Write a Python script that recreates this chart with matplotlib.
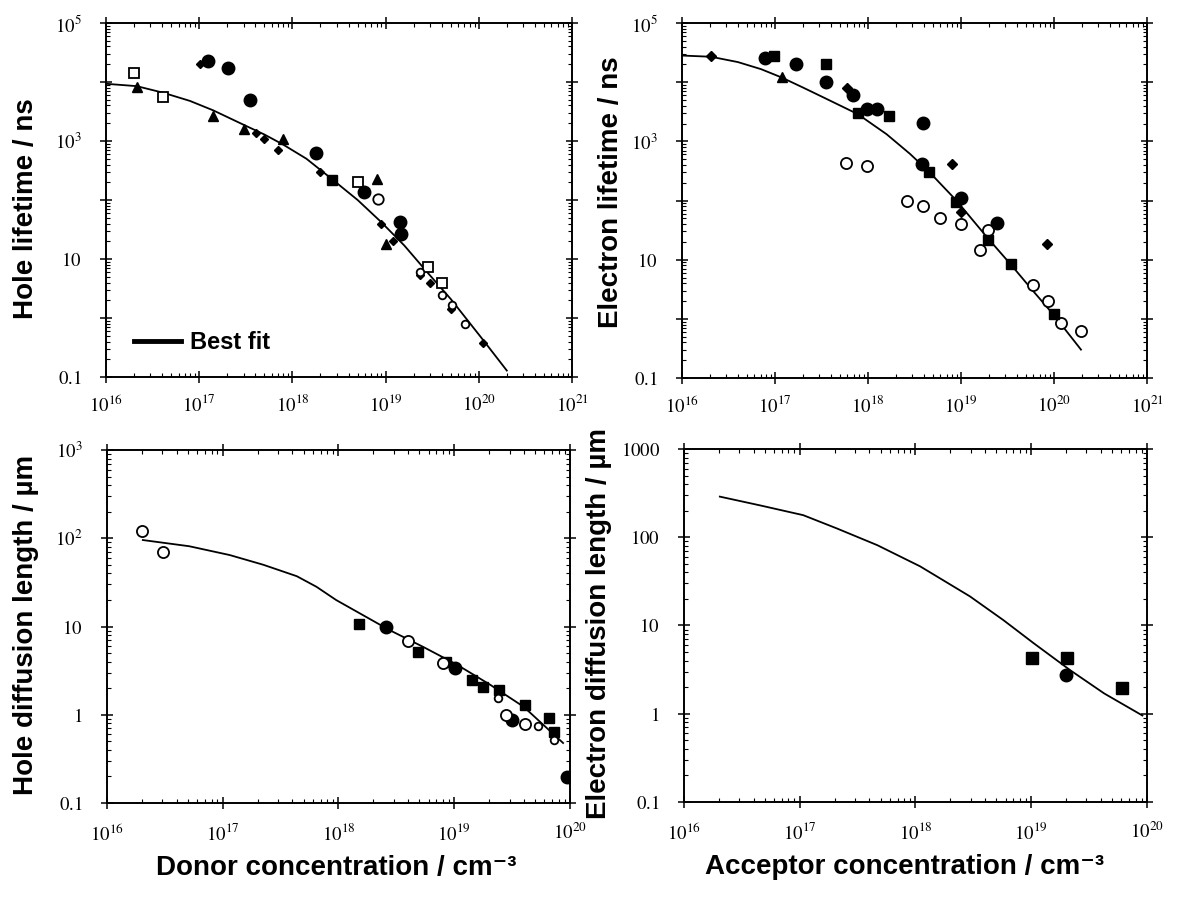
import numpy as np
import matplotlib
matplotlib.use('Agg')
import matplotlib.pyplot as plt
from matplotlib.lines import Line2D
from matplotlib.ticker import LogLocator, FixedLocator, NullFormatter

plt.rcParams['mathtext.fontset'] = 'stix'
plt.rcParams['font.family'] = ['Liberation Sans', 'DejaVu Sans']

# all values are log10: x = log10(N / cm^-3), y = log10(quantity)

# hole lifetime (ns) vs donor concentration
tp_open_sq_x = [16.30, 16.61, 18.70, 19.45, 19.60]
tp_open_sq_y = [4.16, 3.75, 2.30, 0.86, 0.59]
tp_open_circ_x = [18.92, 19.37, 19.61, 19.71, 19.85]
tp_open_circ_y = [2.02, 0.78, 0.39, 0.22, -0.10]
tp_tri_x = [16.33, 17.15, 17.48, 17.90, 18.91, 19.00]
tp_tri_y = [3.91, 3.42, 3.20, 3.03, 2.36, 1.25]
tp_dia_x = [17.01, 17.61, 17.70, 17.85, 18.30, 18.95, 19.08, 19.37, 19.48, 19.70, 20.04]
tp_dia_y = [4.31, 3.14, 3.04, 2.84, 2.47, 1.59, 1.30, 0.73, 0.59, 0.16, -0.42]
tp_circ_x = [17.09, 17.31, 17.54, 18.25, 18.77, 19.15, 19.17]
tp_circ_y = [4.35, 4.24, 3.70, 2.80, 2.14, 1.62, 1.42]
tp_sq_x = [18.42]
tp_sq_y = [2.34]
tp_fit_x = [16.00, 16.33, 16.61, 16.90, 17.15, 17.47, 17.70, 17.90, 18.15, 18.42, 18.70,
            18.95, 19.20, 19.45, 19.70, 20.04, 20.30]
tp_fit_y = [3.97, 3.93, 3.82, 3.68, 3.52, 3.28, 3.11, 2.94, 2.70, 2.36, 2.00,
            1.63, 1.23, 0.77, 0.32, -0.36, -0.89]

# electron lifetime (ns) vs acceptor concentration
tn_dia_x = [16.31, 17.77, 18.90, 19.00, 19.92]
tn_dia_y = [4.45, 3.91, 2.61, 1.81, 1.26]
tn_circ_x = [16.89, 17.22, 17.55, 17.84, 17.99, 18.10, 18.59, 18.58, 19.00, 19.39]
tn_circ_y = [4.41, 4.31, 4.00, 3.78, 3.55, 3.54, 3.31, 2.61, 2.05, 1.62]
tn_sq_x = [16.99, 17.55, 17.89, 18.23, 18.66, 18.95, 19.29, 19.54, 20.00]
tn_sq_y = [4.45, 4.31, 3.48, 3.43, 2.48, 1.97, 1.33, 0.92, 0.09]
tn_tri_x = [17.07]
tn_tri_y = [4.08]
tn_open_x = [17.76, 17.99, 18.42, 18.59, 18.77, 19.00, 19.29, 19.20, 19.77, 19.94, 20.07, 20.29]
tn_open_y = [2.63, 2.58, 2.00, 1.91, 1.71, 1.61, 1.50, 1.16, 0.57, 0.31, -0.07, -0.21]
tn_fit_x = [16.00, 16.31, 16.60, 16.85, 17.07, 17.30, 17.55, 17.89, 18.20, 18.45, 18.66,
            18.95, 19.29, 19.54, 19.77, 20.00, 20.29]
tn_fit_y = [4.45, 4.43, 4.34, 4.22, 4.08, 3.91, 3.72, 3.46, 3.12, 2.79, 2.48,
            2.00, 1.36, 0.91, 0.48, 0.06, -0.52]

# hole diffusion length (um) vs donor concentration
lp_open_x = [16.30, 16.48, 18.60, 18.90, 19.45, 19.61]
lp_open_y = [2.08, 1.84, 0.84, 0.59, 0.00, -0.10]
lp_small_open_x = [19.38, 19.72, 19.86]
lp_small_open_y = [0.19, -0.13, -0.29]
lp_sq_x = [18.18, 18.69, 18.93, 19.15, 19.25, 19.39, 19.61, 19.82, 19.86]
lp_sq_y = [1.03, 0.71, 0.60, 0.39, 0.32, 0.28, 0.11, -0.04, -0.20]
lp_circ_x = [18.41, 19.01, 19.50, 19.97]
lp_circ_y = [0.99, 0.53, -0.06, -0.70]
lp_fit_x = [16.31, 16.71, 17.06, 17.35, 17.64, 17.81, 17.98, 18.21, 18.44, 18.73, 19.02, 19.31, 19.60, 19.94]
lp_fit_y = [1.98, 1.91, 1.81, 1.70, 1.57, 1.45, 1.30, 1.13, 0.96, 0.77, 0.57, 0.34, 0.09, -0.32]

# electron diffusion length (um) vs acceptor concentration
ln_sq_x = [19.01, 19.31, 19.78]
ln_sq_y = [0.63, 0.63, 0.29]
ln_circ_x = [19.30]
ln_circ_y = [0.44]
ln_fit_x = [16.31, 16.66, 17.03, 17.32, 17.67, 18.04, 18.47, 18.76, 19.02, 19.34, 19.63, 19.96]
ln_fit_y = [2.46, 2.36, 2.25, 2.10, 1.91, 1.67, 1.33, 1.06, 0.80, 0.49, 0.23, -0.02]

# tick labels
x_top_ticks = [16, 17, 18, 19, 20, 21]
x_bot_ticks = [16, 17, 18, 19, 20]
y_top_ticks = [-1, 0, 1, 2, 3, 4, 5]
y_top_labels = ['$0.1$', '', '$10$', '', '$10^{3}$', '', '$10^{5}$']
y_bl_labels = ['$0.1$', '$1$', '$10$', '$10^{2}$', '$10^{3}$']
y_br_labels = ['$0.1$', '$1$', '$10$', '$100$', '$1000$']
y_bot_ticks = [-1, 0, 1, 2, 3]

label_font = dict(fontsize=20, fontweight='bold', family=['Liberation Sans', 'DejaVu Sans'])


def p(v):
    return 10.0 ** np.asarray(v)


def style(ax, xticks, yticks, ylabels, xpad):
    ax.set_xscale('log')
    ax.set_yscale('log')
    ax.set_xlim(p(xticks[0]), p(xticks[-1]))
    ax.set_ylim(p(yticks[0]), p(yticks[-1]))
    ax.xaxis.set_major_locator(FixedLocator(p(xticks)))
    ax.set_xticklabels(['$10^{%d}$' % t for t in xticks])
    ax.yaxis.set_major_locator(FixedLocator(p(yticks)))
    ax.set_yticklabels(ylabels)
    ax.xaxis.set_minor_locator(LogLocator(base=10, subs=np.arange(2, 10), numticks=50))
    ax.yaxis.set_minor_locator(LogLocator(base=10, subs=np.arange(2, 10), numticks=50))
    ax.xaxis.set_minor_formatter(NullFormatter())
    ax.yaxis.set_minor_formatter(NullFormatter())
    ax.tick_params(which='major', direction='inout', length=9, width=1.1,
                   top=True, right=True, labelsize=13.5)
    ax.tick_params(which='minor', direction='in', length=3, width=0.8,
                   top=True, right=True)
    ax.tick_params(axis='x', which='major', pad=xpad)
    ax.tick_params(axis='y', which='major', pad=13)
    for s in ax.spines.values():
        s.set_linewidth(1.4)


fig = plt.figure(figsize=(11.78, 8.99), dpi=100)
ax1 = fig.add_axes([0.090, 0.5806, 0.3956, 0.3938])
ax2 = fig.add_axes([0.579, 0.5795, 0.3947, 0.3949])
ax3 = fig.add_axes([0.0908, 0.1068, 0.3931, 0.3926])
ax4 = fig.add_axes([0.5806, 0.1079, 0.3931, 0.3927])

fill = dict(color='black', linestyle='none')
hollow = dict(markerfacecolor='white', markeredgecolor='black', markeredgewidth=1.3, linestyle='none')

# hole lifetime
ax1.plot(p(tp_fit_x), p(tp_fit_y), color='black', lw=1.3)
ax1.plot(p(tp_open_sq_x), p(tp_open_sq_y), marker='s', markersize=7, **hollow)
ax1.plot(p(tp_tri_x), p(tp_tri_y), marker='^', markersize=7, **fill)
ax1.plot(p(tp_dia_x), p(tp_dia_y), marker='D', markersize=4.5, **fill)
ax1.plot(p(tp_circ_x), p(tp_circ_y), marker='o', markersize=9, **fill)
ax1.plot(p(tp_sq_x), p(tp_sq_y), marker='s', markersize=7, **fill)
ax1.plot(p(tp_open_circ_x[:1]), p(tp_open_circ_y[:1]), marker='o', markersize=7.5, **hollow)
ax1.plot(p(tp_open_circ_x[1:]), p(tp_open_circ_y[1:]), marker='o', markersize=5.5, **hollow)
style(ax1, x_top_ticks, y_top_ticks, y_top_labels, 8)
ax1.set_ylabel('Hole lifetime / ns', **label_font)
ax1.yaxis.set_label_coords(-0.144, 0.477)
ax1.legend(handles=[Line2D([], [], color='black', lw=3.5)], labels=['Best fit'],
           loc='lower left', bbox_to_anchor=(0.014, 0.005), frameon=False,
           handlelength=2.0, handletextpad=0.4,
           prop=dict(size=17, weight='bold', family='Liberation Sans'))

# electron lifetime
ax2.plot(p(tn_fit_x), p(tn_fit_y), color='black', lw=1.3)
ax2.plot(p(tn_open_x), p(tn_open_y), marker='o', markersize=8, **hollow)
ax2.plot(p(tn_circ_x), p(tn_circ_y), marker='o', markersize=9, **fill)
ax2.plot(p(tn_sq_x), p(tn_sq_y), marker='s', markersize=7.5, **fill)
ax2.plot(p(tn_dia_x), p(tn_dia_y), marker='D', markersize=5, **fill)
ax2.plot(p(tn_tri_x), p(tn_tri_y), marker='^', markersize=7, **fill)
style(ax2, x_top_ticks, y_top_ticks, y_top_labels, 8)
ax2.set_ylabel('Electron lifetime / ns', **label_font)
ax2.yaxis.set_label_coords(-0.125, 0.524)

# hole diffusion length
ax3.plot(p(lp_fit_x), p(lp_fit_y), color='black', lw=1.3)
ax3.plot(p(lp_sq_x), p(lp_sq_y), marker='s', markersize=7, **fill)
ax3.plot(p(lp_circ_x), p(lp_circ_y), marker='o', markersize=9, **fill)
ax3.plot(p(lp_open_x), p(lp_open_y), marker='o', markersize=8, **hollow)
ax3.plot(p(lp_small_open_x), p(lp_small_open_y), marker='o', markersize=5.5, **hollow)
style(ax3, x_bot_ticks, y_bot_ticks, y_bl_labels, 10)
ax3.set_ylabel('Hole diffusion length / µm', **label_font)
ax3.yaxis.set_label_coords(-0.147, 0.504)
ax3.set_xlabel('Donor concentration / cm⁻³', **label_font)
ax3.xaxis.set_label_coords(0.495, -0.147)

# electron diffusion length
ax4.plot(p(ln_fit_x), p(ln_fit_y), color='black', lw=1.3)
ax4.plot(p(ln_sq_x), p(ln_sq_y), marker='s', markersize=8, **fill)
ax4.plot(p(ln_circ_x), p(ln_circ_y), marker='o', markersize=9, **fill)
style(ax4, x_bot_ticks, y_bot_ticks, y_br_labels, 10)
ax4.set_ylabel('Electron diffusion length / µm', **label_font)
ax4.yaxis.set_label_coords(-0.155, 0.507)
ax4.set_xlabel('Acceptor concentration / cm⁻³', **label_font)
ax4.xaxis.set_label_coords(0.477, -0.147)

plt.savefig('out.png', dpi=100)
